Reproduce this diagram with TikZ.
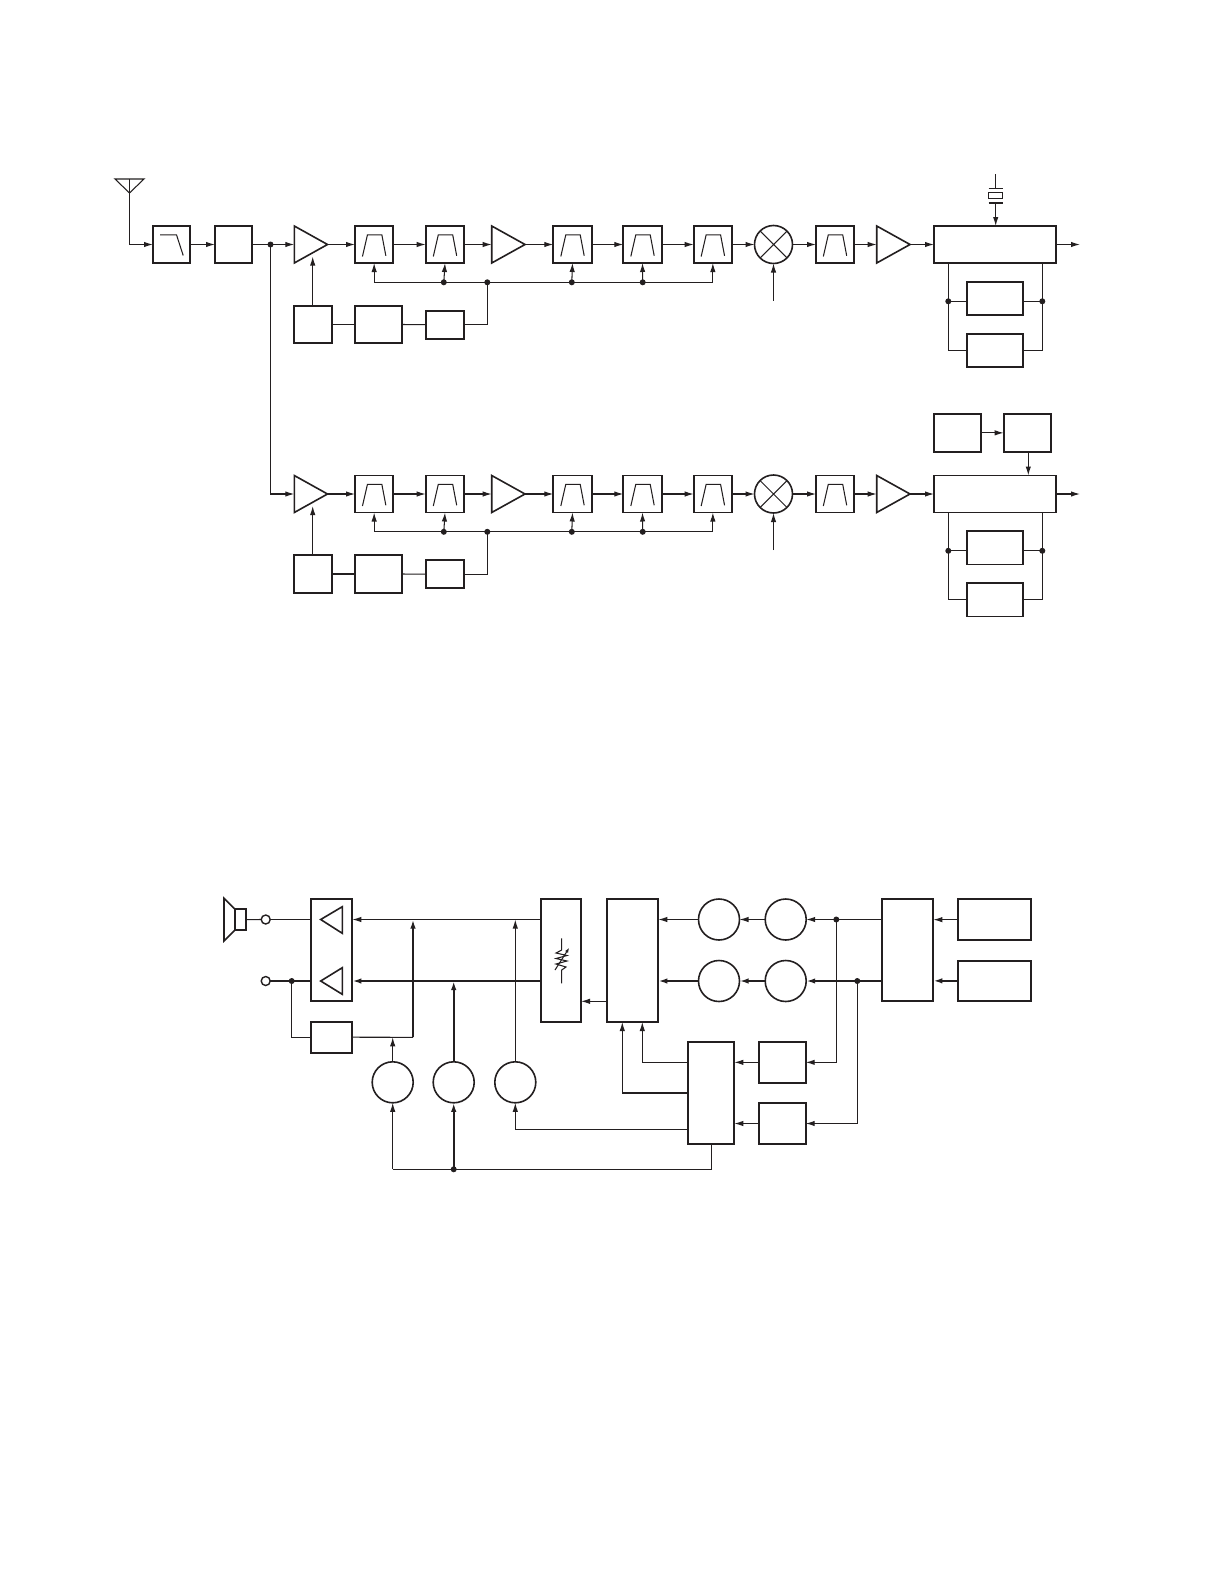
\documentclass[tikz,border=0pt]{standalone}
\usetikzlibrary{arrows.meta}
\definecolor{ink}{HTML}{231F20}
\tikzset{
  x=1pt,y=-1pt,
  nbox/.style={draw=ink,line width=1.8pt,fill=white,inner sep=0pt,outer sep=0pt,rectangle},
  ring/.style={draw=ink,line width=1.6pt,fill=white,circle,inner sep=0pt,outer sep=0pt},
  port/.style={draw=ink,line width=1.4pt,fill=white,circle,inner sep=0pt,outer sep=0pt,minimum size=9pt},
  dot/.style={fill=ink,circle,inner sep=0pt,outer sep=0pt,minimum size=6pt},
  conn/.style={draw=ink,line width=1.05pt},
  hvy/.style={draw=ink,line width=2.1pt},
  arr/.style={-{Latex[length=9pt,width=5.4pt]}},
  shape line/.style={draw=ink,line width=1.05pt},
  tri/.style={draw=ink,line width=1.6pt,line join=miter},
}
% \Bx{name}{x1}{y1}{x2}{y2}
\newcommand\Bx[5]{\node[nbox,minimum width={(#4-#2)*1pt},minimum height={(#5-#3)*1pt}] (#1) at ({(#2+#4)/2},{(#3+#5)/2}) {};}
% \Rg{name}{cx}{cy}{r}
\newcommand\Rg[4]{\node[ring,minimum size={2*#4*1pt}] (#1) at (#2,#3) {};}
% \Amp{name}{x1}{x2}: right pointing triangle on y=0 of the scope
\newcommand\Amp[3]{\draw[tri] (#2,-18.5) -- (#3,0) -- (#2,18.5) -- cycle;
  \coordinate (#1in) at (#2,0); \coordinate (#1out) at (#3,0);}
% \Bpf{name}{x1}{x2}
\newcommand\Bpf[3]{\Bx{#1}{#2}{-18.5}{#3}{18.5}
  \draw[shape line] ([shift={(-11.7,12)}]#1.center) -- ([shift={(-6.7,-9.7)}]#1.center) -- ([shift={(7.7,-9.7)}]#1.center) -- ([shift={(11.7,11.3)}]#1.center);}
% one receive chain: prefix, y of centre line
\newcommand\Chain[2]{\begin{scope}[shift={(0,#2)}]
  \Amp{#1a}{294.3}{327.5}
  \Bpf{#1f}{355}{393.3}
  \Bpf{#1g}{425.7}{464.3}
  \Amp{#1b}{491.7}{525}
  \Bpf{#1h}{553.3}{591.7}
  \Bpf{#1i}{623.3}{661.7}
  \Bpf{#1j}{693.7}{732}
  \Rg{#1m}{773.5}{0}{19}
  \draw[conn] (#1m.45) -- (#1m.225) (#1m.135) -- (#1m.315);
  \Bpf{#1k}{816}{854}
  \Amp{#1c}{876.7}{910}
  \Bx{#1D}{934}{-18.5}{1056}{18.5}
  \Bx{#1A}{294.3}{61.2}{332}{98.8}
  \Bx{#1B}{355}{61.2}{402.3}{98.8}
  \Bx{#1C}{425.7}{66.2}{463.7}{94.2}
  \Bx{#1S}{966.7}{37.2}{1023.3}{70.5}
  \Bx{#1T}{966.7}{89.2}{1023.3}{122.5}
  \coordinate (#1ctl) at (312.7,12);
  \coordinate (#1end) at (1080,0);
  \coordinate (#1lo) at (773.5,56.2);
  \node[dot] (#1d1) at (443.8,37.8) {};
  \node[dot] (#1d2) at (487.3,37.8) {};
  \node[dot] (#1d3) at (571.8,37.8) {};
  \node[dot] (#1d4) at (642.7,37.8) {};
  \node[dot] (#1dl) at (948.3,56.8) {};
  \node[dot] (#1dr) at (1042.3,56.8) {};
  % signal path
  \draw[conn,arr] (#1aout) -- (#1f.west);
  \draw[conn,arr] (#1f.east) -- (#1g.west);
  \draw[conn,arr] (#1g.east) -- (#1bin);
  \draw[conn,arr] (#1bout) -- (#1h.west);
  \draw[conn,arr] (#1h.east) -- (#1i.west);
  \draw[conn,arr] (#1i.east) -- (#1j.west);
  \draw[conn,arr] (#1j.east) -- (#1m.west);
  \draw[conn,arr] (#1m.east) -- (#1k.west);
  \draw[conn,arr] (#1k.east) -- (#1cin);
  \draw[conn,arr] (#1cout) -- (#1D.west);
  \draw[conn,arr] (#1D.east) -- (#1end);
  \draw[conn,arr] (#1lo) -- (#1m.south);
  % AGC
  \draw[conn,arr] (#1A.north -| #1ctl) -- (#1ctl);
  \draw[conn] (#1A.east) -- (#1B.west);
  \draw[conn] (#1B.east) -- (#1C.west);
  \draw[conn] (#1C.east) -| (#1d2.center);
  \draw[conn,arr] (#1d2.center) -- (#1d1.center) -| (#1f.south);
  \draw[conn,arr] (#1d1.center) -- (#1g.south);
  \draw[conn] (#1d2.center) -- (#1d3.center) -- (#1d4.center);
  \draw[conn,arr] (#1d3.center) -- (#1h.south);
  \draw[conn,arr] (#1d4.center) -- (#1i.south);
  \draw[conn,arr] (#1d4.center) -| (#1j.south);
  % IF section
  \draw[conn] (#1D.south -| #1dl) -- (#1dl.center) |- (#1T.west);
  \draw[conn] (#1D.south -| #1dr) -- (#1dr.center) |- (#1T.east);
  \draw[conn] (#1dl.center) -- (#1S.west |- #1dl);
  \draw[conn] (#1dr.center) -- (#1S.east |- #1dr);
\end{scope}}
\begin{document}
\begin{tikzpicture}
\useasboundingbox[fill=white] (0,0) rectangle (1224,1584);
\Chain{u}{244.5}
\Chain{l}{494}
% ---- front end
\Bx{lpf}{153}{226}{190}{263}
\draw[shape line] ([shift={(-11.3,-9.7)}]lpf.center) -- ([shift={(5,-9.7)}]lpf.center) -- ([shift={(11.7,11)}]lpf.center);
\Bx{pre}{215}{226}{252}{263}
\coordinate (ant) at (129.5,179);
\coordinate (antapex) at (129.5,193);
\draw[conn] (115,179) -- (144,179) -- (antapex) -- cycle;
\draw[conn] (ant) -- (antapex);
\draw[conn,arr] (antapex) |- (lpf.west);
\draw[conn,arr] (lpf.east) -- (pre.west);
\node[dot] (split) at (270.5,244.5) {};
\draw[conn,arr] (pre.east) -- (uain);
\draw[conn,arr] (split.center) |- (lain);
% ---- crystal
\coordinate (xtop) at (995.7,174);
\node[nbox,line width=1.5pt,minimum width=14pt,minimum height=5.6pt] (xtal) at (995.7,195.5) {};
\coordinate (xp1) at (995.7,188.3);
\coordinate (xp2) at (995.7,202.7);
\draw[conn] (xtop) -- (xp1);
\draw[draw=ink,line width=1.6pt] ([xshift=-7pt]xp1) -- ([xshift=7pt]xp1);
\draw[draw=ink,line width=1.6pt] ([xshift=-7pt]xp2) -- ([xshift=7pt]xp2);
\draw[conn,arr] (xp2) -- (uD.north -| xp2);
% ---- lower extras
\Bx{p}{933.7}{413.7}{981.3}{452}
\Bx{q}{1003.7}{413.7}{1051.3}{452}
\draw[conn,arr] (p.east) -- (q.west);
\coordinate (qd) at (1028.3,452);
\draw[conn,arr] (qd) -- (lD.north -| qd);
% ---- audio section
\coordinate (yA) at (0,919.5);
\coordinate (yB) at (0,981);
\draw[tri] (224,898.3) -- (235,909.3) -- (235,930) -- (224,941) -- cycle;
\node[nbox,minimum width=10.7pt,minimum height=20.7pt] (spk) at (240.3,919.6) {};
\node[port] (j1) at (265.7,919.5) {};
\node[port] (j2) at (265.7,981) {};
\Bx{out}{310.7}{899.3}{352.3}{1001}
\draw[tri] (320.7,919.5) -- (342.3,906.7) -- (342.3,933.3) -- cycle;
\draw[tri] (320.7,981) -- (342.3,967.7) -- (342.3,994.3) -- cycle;
\Bx{fb}{310.7}{1021.7}{352.3}{1052.7}
\Bx{vol}{540.7}{899.3}{581}{1022}
\Bx{proc}{606.7}{899.3}{658.3}{1022}
\Rg{c1}{719}{919.5}{20.5}
\Rg{c2}{785.7}{919.5}{20.5}
\Rg{c3}{719}{981}{20.5}
\Rg{c4}{785.7}{981}{20.5}
\Bx{E}{881.7}{899.3}{933.3}{1001}
\Bx{F}{958.3}{899.3}{1030.7}{940}
\Bx{Fb}{958.3}{960.7}{1030.7}{1001}
\Bx{G}{688.3}{1041.7}{734.3}{1144.3}
\Bx{H}{759.3}{1041.7}{805.7}{1083}
\Bx{Hb}{759.3}{1102.7}{805.7}{1144.3}
\Rg{k1}{392.7}{1082.3}{20.5}
\Rg{k2}{453.7}{1082.3}{20.5}
\Rg{k3}{515.3}{1082.3}{20.5}
\node[dot] (dj) at (291.7,981) {};
\node[dot] (dA) at (836.3,919.5) {};
\node[dot] (dB) at (857.3,981) {};
\node[dot] (dbus) at (453.7,1169.3) {};
\coordinate (t1) at (392.7,1037.3);
\coordinate (tc) at (413,1037.3);
\coordinate (t2) at (413,919.5);
\coordinate (t3) at (453.7,981);
\coordinate (t4) at (515.3,919.5);
\coordinate (gA) at (642.3,1062.3);
\coordinate (gB) at (622.3,1093);
\coordinate (gC) at (515.3,1129.3);
\coordinate (gD) at (711.7,1169.3);
\coordinate (busL) at (392.7,1169.3);
% resistor symbol
\coordinate (r1) at (561.7,938.3);
\coordinate (r2) at (561.7,983.3);
\draw[conn] (r1) -- (561.7,950) -- (556,953) -- (567,955.5) -- (556,958.5) -- (567,961) -- (556,964) -- (566,967) -- (561.7,970) -- (r2);
\draw[conn,-{Latex[length=5pt,width=3.5pt]}] (555,970) -- (569.3,947.7);
% wiring
\draw[conn] (spk.east) -- (j1.west);
\draw[conn] (j1.east) -- (out.west |- j1);
\draw[conn] (j2.east) -- (dj.center) -- (out.west |- dj);
\draw[conn] (dj.center) |- (fb.west);
\draw[conn,arr] (vol.west |- yA) -- (out.east |- yA);
\draw[hvy,arr] (vol.west |- yB) -- (out.east |- yB);
\draw[conn] (fb.east) -- (tc);
\draw[conn,arr] (k1.north) -- (t1);
\draw[hvy,arr] (tc) -- (t2);
\draw[hvy,arr] (k2.north) -- (t3);
\draw[conn,arr] (k3.north) -- (t4);
\draw[conn,arr] (proc.west |- 0,1001.3) -- (vol.east |- 0,1001.3);
\draw[conn,arr] (c1.west) -- (proc.east |- c1);
\draw[hvy,arr] (c3.west) -- (proc.east |- c3);
\draw[conn,arr] (c2.west) -- (c1.east);
\draw[hvy,arr] (c4.west) -- (c3.east);
\draw[conn,arr] (E.west |- c2) -- (c2.east);
\draw[hvy,arr] (E.west |- c4) -- (c4.east);
\draw[conn,arr] (F.west) -- (E.east |- F);
\draw[hvy,arr] (Fb.west) -- (E.east |- Fb);
\draw[conn,arr] (dA.center) |- (H.east);
\draw[conn,arr] (dB.center) |- (Hb.east);
\draw[conn,arr] (H.west) -- (G.east |- H);
\draw[conn,arr] (Hb.west) -- (G.east |- Hb);
\draw[conn,arr] (G.west |- gA) -| (proc.south -| gA);
\draw[hvy] (G.west |- gB) -- (gB);
\draw[conn,arr] (gB) -- (proc.south -| gB);
\draw[conn,arr] (G.west |- gC) -- (gC) -- (k3.south);
\draw[conn] (G.south -| gD) -- (gD) -- (dbus.center) -- (busL);
\draw[conn,arr] (busL) -- (k1.south);
\draw[hvy,arr] (dbus.center) -- (k2.south);
\end{tikzpicture}
\end{document}
